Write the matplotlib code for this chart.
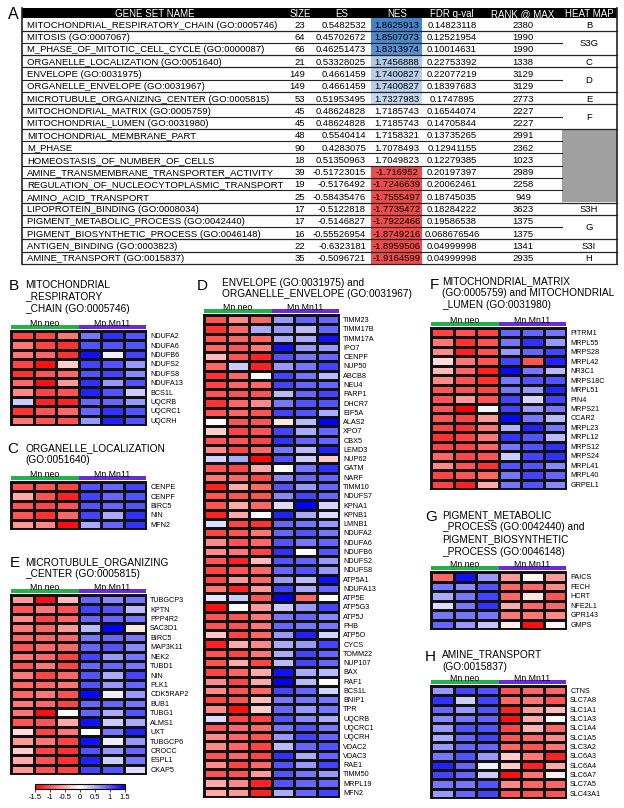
import numpy as np
import matplotlib
matplotlib.use('Agg')
import matplotlib.pyplot as plt
from matplotlib.colors import LinearSegmentedColormap, to_rgb
from matplotlib.patches import Rectangle

plt.rcParams['font.family'] = ['Liberation Sans', 'DejaVu Sans']
plt.rcParams['axes.unicode_minus'] = False

# ---------------- table data ----------------
gene_sets = ["MITOCHONDRIAL_RESPIRATORY_CHAIN (GO:0005746)", "MITOSIS (GO:0007067)",
             "M_PHASE_OF_MITOTIC_CELL_CYCLE (GO:0000087)", "ORGANELLE_LOCALIZATION (GO:0051640)",
             "ENVELOPE (GO:0031975)", "ORGANELLE_ENVELOPE (GO:0031967)",
             "MICROTUBULE_ORGANIZING_CENTER (GO:0005815)", "MITOCHONDRIAL_MATRIX (GO:0005759)",
             "MITOCHONDRIAL_LUMEN (GO:0031980)", "MITOCHONDRIAL_MEMBRANE_PART", "M_PHASE",
             "HOMEOSTASIS_OF_NUMBER_OF_CELLS", "AMINE_TRANSMEMBRANE_TRANSPORTER_ACTIVITY",
             "REGULATION_OF_NUCLEOCYTOPLASMIC_TRANSPORT", "AMINO_ACID_TRANSPORT",
             "LIPOPROTEIN_BINDING (GO:0008034)", "PIGMENT_METABOLIC_PROCESS (GO:0042440)",
             "PIGMENT_BIOSYNTHETIC_PROCESS (GO:0046148)", "ANTIGEN_BINDING (GO:0003823)",
             "AMINE_TRANSPORT (GO:0015837)"]
sizes = [23, 64, 66, 21, 149, 149, 53, 45, 45, 48, 90, 18, 39, 19, 25, 17, 17, 16, 22, 35]
es = [0.5482532, 0.45702672, 0.46251473, 0.53328025, 0.4661459, 0.4661459, 0.51953495,
      0.48624828, 0.48624828, 0.5540414, 0.4283075, 0.51350963, -0.51723015, -0.5176492,
      -0.58435476, -0.5122818, -0.5146827, -0.55526954, -0.6323181, -0.5096721]
nes = [1.8625913, 1.8507073, 1.8313974, 1.7456888, 1.7400827, 1.7400827, 1.7327983,
       1.7185743, 1.7185743, 1.7158321, 1.7078493, 1.7049823, -1.716952, -1.7246639,
       -1.7555497, -1.7735472, -1.7922466, -1.8749216, -1.8959506, -1.9164599]
fdr = [0.14823118, 0.12521954, 0.10014631, 0.22753392, 0.22077219, 0.18397683, 0.1747895,
       0.16544074, 0.14705844, 0.13735265, 0.12941155, 0.12279385, 0.20197397, 0.20062461,
       0.18745035, 0.18284222, 0.19586538, 0.068676546, 0.04999998, 0.04999998]
rank_at_max = [2380, 1990, 1990, 1338, 3129, 3129, 2773, 2227, 2227, 2991, 2362, 1023,
               2989, 2258, 949, 3623, 1375, 1375, 1341, 2935]
heat_map_labels = ["B", "S3G", "S3G", "C", "D", "D", "E", "F", "F", "", "", "", "", "", "",
                   "S3H", "G", "G", "S3I", "H"]
headers = ["GENE SET NAME", "SIZE", "ES", "NES", "FDR q-val", "RANK @ MAX", "HEAT MAP"]

# ---------------- heat map data ----------------
conditions = ["Mn neo", "Mn Mn11"]

genes_B = ["NDUFA2", "NDUFA6", "NDUFB6", "NDUFS2", "NDUFS8", "NDUFA13", "BCS1L", "UQCRB",
           "UQCRC1", "UQCRH"]
vals_B = [[-1.1, -1.1, -0.8, 0.8, 1.2, 1.0],
          [-0.8, -1.1, -1.2, 1.0, 1.0, 1.0],
          [-0.8, -0.9, -1.2, 1.4, 0.1, 1.1],
          [-1.1, -1.4, -0.3, 1.1, 1.0, 0.6],
          [-1.2, -1.0, -0.9, 1.0, 1.1, 0.7],
          [-0.9, -1.4, -0.6, 1.2, 0.6, 1.0],
          [-0.7, -1.1, -1.0, 1.3, 1.0, 0.3],
          [0.3, -1.3, -1.3, 0.9, 0.9, 0.6],
          [-1.2, -1.0, -0.9, 0.9, 1.2, 1.0],
          [-0.8, -1.0, -1.0, 0.6, 1.3, 1.0]]

genes_C = ["CENPE", "CENPF", "BIRC5", "NIN", "MFN2"]
vals_C = [[-1.0, -1.0, -1.1, 1.0, 0.9, 1.1],
          [-0.5, -1.0, -1.3, 1.1, 0.9, 1.0],
          [-1.0, -1.1, -1.0, 1.0, 0.9, 1.0],
          [-1.0, -1.2, -0.9, 1.1, 0.5, 1.2],
          [-0.6, -0.7, -1.4, 0.5, 0.9, 1.2]]

genes_E = ["TUBGCP3", "KPTN", "PPP4R2", "SAC3D1", "BIRC5", "MAP3K11", "NEK2", "TUBD1", "NIN",
           "PLK1", "CDK5RAP2", "BUB1", "TUBG1", "ALMS1", "UXT", "TUBGCP6", "CROCC", "ESPL1",
           "CKAP5"]
vals_E = [[-0.6, -1.4, -0.4, 0.9, 0.7, 0.8],
          [-1.0, -0.8, -1.0, 1.1, 1.0, 0.4],
          [-0.7, -1.1, -0.9, 0.9, 0.9, 0.8],
          [-0.8, -0.9, -0.6, 0.4, 1.5, -0.15],
          [-0.9, -0.9, -0.9, 0.8, 0.9, 0.8],
          [-1.0, -0.9, -0.9, 0.9, 1.0, 0.7],
          [-0.8, -0.9, -1.1, 1.1, 0.6, 0.8],
          [-1.0, -0.8, -1.1, 0.9, 0.9, 0.8],
          [-0.8, -1.1, -0.9, 1.0, 0.5, 1.1],
          [-0.9, -0.9, -0.8, 1.0, 0.6, 0.9],
          [-0.9, -0.8, -1.0, 1.45, 0.1, 0.6],
          [-0.8, -0.9, -1.1, 0.9, 0.9, 0.8],
          [-0.8, -1.4, 0.0, 0.9, 0.5, 1.0],
          [-1.0, -1.0, -0.5, 1.4, 0.3, 0.5],
          [-0.2, -1.1, -0.8, 0.0, 0.8, 1.3],
          [-0.6, -0.8, -1.1, 1.4, 0.1, 0.6],
          [-0.3, -1.1, -1.2, 1.0, 0.6, 0.9],
          [-0.5, -1.0, -1.2, 1.3, 0.3, 0.8],
          [-0.6, -1.0, -1.1, 1.1, 1.0, 0.2]]

genes_D = ["TIMM23", "TIMM17B", "TIMM17A", "IPO7", "CENPF", "NUP50", "ABCB8", "NEU4", "PARP1",
           "DHCR7", "EIF5A", "ALAS2", "XPO7", "CBX5", "LEMD3", "NUP62", "GATM", "NARF", "TIMM10",
           "NDUFS7", "KPNA1", "KPNB1", "LMNB1", "NDUFA2", "NDUFA6", "NDUFB6", "NDUFS2", "NDUFS8",
           "ATP5A1", "NDUFA13", "ATP5E", "ATP5G3", "ATP5J", "PHB", "ATP5O", "CYCS", "TOMM22",
           "NUP107", "BAX", "RAF1", "BCS1L", "BNIP1", "TPR", "UQCRB", "UQCRC1", "UQCRH", "VDAC2",
           "VDAC3", "RAE1", "TIMM50", "MRPL19", "MFN2"]
vals_D = [[-1.0, -0.7, -0.9, 0.6, 0.9, 0.9],
          [-1.2, -0.9, 0.5, 0.6, 0.4, 0.9],
          [-1.0, -0.9, -0.9, 0.5, 0.5, 1.4],
          [-0.9, -1.0, -0.8, 1.4, 0.6, 0.6],
          [-0.4, -1.0, -1.3, 1.0, 0.8, 0.9],
          [-0.9, 0.3, -1.3, 0.6, 0.8, 1.1],
          [-1.2, -0.9, 0.0, 1.1, 0.8, 0.4],
          [-1.1, -0.9, -0.9, 1.1, 0.9, 0.9],
          [-1.0, -1.0, -1.0, 0.4, 0.9, 1.1],
          [-1.2, -0.9, -0.7, 0.8, 1.0, 1.0],
          [-1.0, -0.9, -1.0, 1.1, 1.0, 0.5],
          [0.0, -1.0, -1.0, -0.15, 0.4, 1.5],
          [-0.3, -1.1, -1.0, 1.1, 0.5, 0.9],
          [-1.0, -1.0, -1.1, 1.2, 0.9, 0.9],
          [-0.7, -1.1, -0.9, 0.8, 0.4, 1.3],
          [0.25, 0.5, -1.45, 1.0, 0.3, -0.3],
          [-1.0, -1.1, -0.5, 0.0, 0.8, 1.2],
          [-0.8, -0.9, -1.1, 0.7, 0.9, 0.9],
          [-1.3, -0.5, -0.9, 1.0, 0.6, 0.9],
          [-1.0, -1.0, -1.0, 0.7, 1.1, 0.9],
          [-1.0, -0.5, -0.9, 0.2, 1.5, 0.25],
          [-1.3, -0.5, 0.0, 1.3, 0.5, 0.2],
          [0.2, -1.1, -1.2, 0.9, 0.8, 0.6],
          [-1.1, -1.0, -0.8, 0.9, 1.0, 0.8],
          [-0.7, -1.0, -0.9, 1.0, 0.8, 0.9],
          [-0.7, -0.8, -1.1, 1.2, 0.0, 1.0],
          [-1.0, -1.3, -0.4, 1.0, 0.9, 0.6],
          [-1.1, -1.0, -0.9, 0.9, 1.0, 0.6],
          [-1.1, -0.6, -0.9, 0.6, 0.4, 1.4],
          [-0.8, -1.3, -0.6, 1.1, 0.5, 0.9],
          [0.15, 0.3, -1.0, 1.5, -0.9, 0.0],
          [-1.4, 0.0, -0.6, 0.3, 0.6, 1.1],
          [-1.0, -1.0, -0.8, 0.8, 0.9, 0.7],
          [-1.0, -1.0, -0.8, 0.9, 0.8, 0.8],
          [-0.35, -1.1, -0.9, 0.6, 1.3, 0.25],
          [-1.3, -0.5, -0.7, 0.5, 0.6, 1.1],
          [-1.0, -1.1, -0.8, 0.5, 1.1, 0.9],
          [-1.0, -0.5, -1.1, 0.4, 1.1, 0.9],
          [-1.1, -0.9, -0.5, 1.4, 0.5, 0.4],
          [-0.7, -1.1, -0.5, 1.5, 0.4, 0.0],
          [-0.7, -1.0, -0.9, 1.1, 0.9, 0.25],
          [-1.1, -1.0, -0.4, 0.8, 0.8, 0.8],
          [-0.7, -1.4, -0.3, 0.9, 0.6, 0.8],
          [0.2, -1.1, -1.1, 1.0, 0.7, 0.5],
          [-1.0, -0.9, -0.9, 0.8, 1.0, 0.8],
          [-0.7, -0.9, -1.0, 0.6, 1.1, 0.9],
          [-0.7, -0.9, -1.1, 0.4, 0.9, 1.0],
          [-1.0, -0.9, -1.1, 1.2, 0.5, 0.9],
          [-0.7, -1.1, -0.9, 1.0, 0.6, 1.1],
          [-1.0, -1.0, -0.6, 1.0, 0.8, 0.6],
          [-0.5, -0.7, -1.3, 1.0, 0.9, 0.9],
          [-0.5, -0.6, -1.3, 0.5, 0.9, 1.1]]

genes_F = ["PITRM1", "MRPL55", "MRPS28", "MRPL42", "NR3C1", "MRPS18C", "MRPL51", "PIN4",
           "MRPS21", "CCAR2", "MRPL23", "MRPL12", "MRPS12", "MRPS24", "MRPL41", "MRPL40",
           "GRPEL1"]
vals_F = [[-1.1, -1.0, -1.1, 0.9, 0.9, 0.8],
          [-0.8, -1.2, -1.0, 0.8, 1.2, 0.6],
          [-0.7, -1.3, -1.0, 0.6, 0.9, 1.1],
          [-0.2, -0.8, -1.0, 1.1, -1.0, 1.3],
          [-0.4, -0.9, -1.3, 1.45, 0.8, 0.4],
          [-0.7, -1.0, -1.2, 0.8, 1.0, 1.0],
          [-1.0, -1.0, -1.1, 0.8, 0.6, 1.3],
          [-1.0, -0.6, -1.0, 1.1, 0.25, 1.1],
          [-1.0, -1.5, 0.05, 1.1, 0.6, 0.8],
          [-1.0, -1.1, -0.6, 1.45, 0.8, 0.4],
          [-1.1, -1.2, -0.8, 0.45, 1.3, 0.8],
          [-1.2, -1.1, -0.8, 1.2, 1.0, 0.4],
          [-1.1, -1.1, -0.9, 0.8, 1.0, 1.2],
          [-0.9, -1.1, -1.0, 0.3, 1.1, 1.2],
          [-0.7, -1.0, -1.2, 1.0, 1.0, 0.7],
          [-1.1, -1.0, -0.9, 0.8, 1.1, 0.9],
          [-1.1, -1.3, -0.5, 0.8, 1.0, 0.7]]

genes_G = ["PAICS", "FECH", "HCRT", "NFE2L1", "GPR143", "GMPS"]
vals_G = [[-0.9, 1.4, 0.6, -0.6, -0.05, -0.6],
          [0.8, 0.7, 1.0, -0.9, -0.9, -0.7],
          [0.5, 0.8, 1.1, -0.9, -0.15, -1.0],
          [0.2, 0.8, 1.2, -0.5, -0.9, -0.9],
          [0.8, 0.8, 0.8, -0.8, -0.8, -0.7],
          [0.9, 0.6, 0.35, -0.1, -1.4, -0.05]]

genes_H = ["CTNS", "SLC7A8", "SLC1A1", "SLC1A3", "SLC1A4", "SLC1A5", "SLC3A2", "SLC6A3",
           "SLC6A4", "SLC6A7", "SLC7A5", "SLC43A1"]
vals_H = [[0.6, 1.1, 1.0, -1.0, -0.9, -0.9],
          [1.2, 0.3, 1.1, -0.9, -0.8, -1.0],
          [0.9, 0.6, 1.0, -1.3, -0.6, -0.4],
          [0.7, 0.8, 0.9, -1.4, -0.5, -0.05],
          [0.6, 1.0, 1.0, -1.1, -0.45, -0.9],
          [0.5, 0.9, 1.1, -1.0, -0.9, -0.7],
          [0.6, 0.9, 0.9, -0.9, -1.0, -0.8],
          [0.8, 1.0, 0.6, -0.3, -0.8, -1.3],
          [1.3, 0.9, 0.1, -0.3, -1.3, -0.5],
          [1.1, 0.9, 0.3, -1.4, -0.8, -0.1],
          [0.8, 0.8, 1.0, -0.7, -0.9, -0.9],
          [0.6, 0.9, 1.1, -1.0, -1.0, -1.0]]

cbar_ticks = [-1.5, -1, -0.5, 0, 0.5, 1, 1.5]
cbar_ticklabels = ["-1.5", "-1", "-0.5", "0", "0.5", "1", "1.5"]

# ---------------- figure ----------------
W, H = 624, 808
fig = plt.figure(figsize=(W / 100, H / 100), dpi=100)
bg = fig.add_axes([0, 0, 1, 1])
bg.set_xlim(0, W)
bg.set_ylim(H, 0)
bg.axis('off')

PX = 100 / 72.0


def ctext(x, yc, s, size, ha='left', color='black', **kw):
    # place text so that cap-height centre sits at yc (pixel coordinates)
    bg.text(x, yc + 0.358 * size * PX, s, fontsize=size, ha=ha, va='baseline',
            color=color, **kw)


# ---------------- table ----------------
TX0, TX1 = 22, 617
HDR_TOP, ROW0 = 8.0, 18.3
RH = 12.28
HM_X = 562
col_centers = {"name": 155, "size": 300, "es": 342, "nes": 397, "fdr": 452, "rank": 523, "hm": 589}
fs_tab = 6.8

bg.add_patch(Rectangle((TX0, HDR_TOP), TX1 - TX0, ROW0 - HDR_TOP, color='black', lw=0))
for h, key in zip(headers, ["name", "size", "es", "nes", "fdr", "rank", "hm"]):
    ctext(col_centers[key], (HDR_TOP + ROW0) / 2 + 0.3, h, 7.0, ha='center', color='white')

blue_t = np.array(to_rgb('#4682c8'))
red_c = '#ee4c4c'
nmax, nmin = max(nes), 1.7186
n = len(gene_sets)
for i in range(n):
    y0 = ROW0 + i * RH
    yc = y0 + RH / 2
    v = nes[i]
    if v < 0:
        col = red_c
    else:
        t = np.clip((v - nmin) / (nmax - nmin), 0, 1) ** 0.5
        col = tuple(np.ones(3) + t * (blue_t - np.ones(3)))
    bg.add_patch(Rectangle((371, y0), 51, RH, color=col, lw=0))
    ctext(27, yc, gene_sets[i], fs_tab)
    ctext(305, yc, str(sizes[i]), fs_tab, ha='right')
    ctext(366, yc, str(es[i]), fs_tab, ha='right')
    ctext(col_centers["nes"], yc, str(nes[i]), fs_tab, ha='center')
    ctext(col_centers["fdr"], yc, str(fdr[i]), fs_tab, ha='center')
    ctext(col_centers["rank"], yc, str(rank_at_max[i]), fs_tab, ha='center')

# heat map column: merged groups
i = 0
while i < n:
    j = i
    while j + 1 < n and heat_map_labels[j + 1] == heat_map_labels[i]:
        j += 1
    ytop = ROW0 + i * RH
    ybot = ROW0 + (j + 1) * RH
    if heat_map_labels[i] == "":
        bg.add_patch(Rectangle((HM_X, ytop), TX1 - HM_X, ybot - ytop, color='#a0a0a0', lw=0))
    else:
        ctext(col_centers["hm"], (ytop + ybot) / 2, heat_map_labels[i], fs_tab, ha='center')
    for k in range(i, j):
        yl = ROW0 + (k + 1) * RH
        bg.plot([TX0, HM_X], [yl, yl], color='#222222', lw=0.8)
    bg.plot([TX0, TX1], [ybot, ybot], color='#222222', lw=0.9)
    i = j + 1
bg.plot([TX0, TX0], [HDR_TOP, ROW0 + n * RH], color='#222222', lw=1.2)
bg.plot([TX1, TX1], [HDR_TOP, ROW0 + n * RH], color='#222222', lw=1.2)
ctext(8, 13.5, "A", 11.5)

# ---------------- heat maps ----------------
cmap = LinearSegmentedColormap.from_list('rwb', ['#ff0000', '#ffffff', '#0000ff'])
GREEN, PURPLE = '#22b14c', '#6a2ad8'

panels = [
    # letter, letter_x, letter_yc, title lines, title_x, title line centres, genes, values, x0, x1, top, bottom
    ("B", 9, 285, ["MITOCHONDRIAL", "_RESPIRATORY", "_CHAIN (GO:0005746)"], 25, [284, 296, 308],
     genes_B, vals_B, 11, 146, 331, 425),
    ("C", 7, 448, ["ORGANELLE_LOCALIZATION", "(GO:0051640)"], 25, [448, 459.5],
     genes_C, vals_C, 11, 146, 482, 529),
    ("E", 10, 562, ["MICROTUBULE_ORGANIZING", "_CENTER (GO:0005815)"], 25, [562, 573.5],
     genes_E, vals_E, 11, 146, 595, 774),
    ("D", 197, 284.5, ["ENVELOPE (GO:0031975) and", "ORGANELLE_ENVELOPE (GO:0031967)"], 222,
     [282, 293.5], genes_D, vals_D, 204, 339, 315, 797),
    ("F", 430, 284, ["MITOCHONDRIAL_MATRIX", "(GO:0005759) and MITOCHONDRIAL", "_LUMEN (GO:0031980)"],
     442, [281, 292.5, 304.5], genes_F, vals_F, 431, 566, 328, 489),
    ("G", 425, 516, ["PIGMENT_METABOLIC", "_PROCESS (GO:0042440) and", "PIGMENT_BIOSYNTHETIC",
                     "_PROCESS (GO:0046148)"], 442, [514.5, 526.5, 539, 551],
     genes_G, vals_G, 431, 566, 572, 629),
    ("H", 425, 656, ["AMINE_TRANSPORT", "(GO:0015837)"], 442, [654, 666],
     genes_H, vals_H, 431, 566, 686, 798),
]

mesh = None
for (letter, lx, ly, tlines, tx, tys, genes, vals, x0, x1, top, bot) in panels:
    ctext(lx, ly, letter, 11)
    for s, yy in zip(tlines, tys):
        ctext(tx, yy, s, 7.25)
    data = np.array(vals)
    nr, nc = data.shape
    ax = fig.add_axes([x0 / W, 1 - bot / H, (x1 - x0) / W, (bot - top) / H])
    mesh = ax.pcolormesh(data, cmap=cmap, vmin=-1.5, vmax=1.5, edgecolors='#111111', linewidth=1.0)
    ax.set_xlim(0, nc)
    ax.set_ylim(nr, 0)
    ax.set_xticks([])
    ax.yaxis.tick_right()
    ax.set_yticks(np.arange(nr) + 0.5)
    ax.set_yticklabels(genes, fontsize=5.2)
    ax.tick_params(axis='y', length=0, pad=3)
    for sp in ax.spines.values():
        sp.set_linewidth(1.4)
        sp.set_color('#111111')
    # condition bars
    half = (x1 - x0) / 2
    bar_top = top - 6
    for k, (cond, colr) in enumerate(zip(conditions, [GREEN, PURPLE])):
        bg.add_patch(Rectangle((x0 + k * half, bar_top), half, 4, color=colr, lw=0))
        bg.text(x0 + k * half + half / 2, bar_top + 0.8, cond, fontsize=6.3, ha='center',
                va='baseline')

# colour bar
cax = fig.add_axes([35 / W, 1 - 789 / H, 90 / W, 5 / H])
cb = fig.colorbar(mesh, cax=cax, orientation='horizontal', ticks=cbar_ticks)
cb.set_ticklabels(cbar_ticklabels)
cax.tick_params(labelsize=5.5, length=2, width=0.5, pad=1.5)
cb.outline.set_linewidth(0.8)

fig.savefig('out.png', dpi=100)
